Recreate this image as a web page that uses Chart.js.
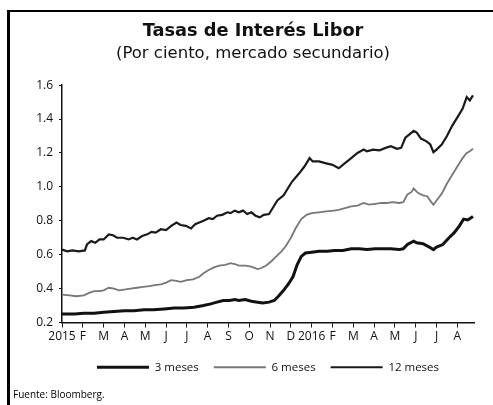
<!DOCTYPE html>
<html><head><meta charset="utf-8">
<script src="https://cdn.jsdelivr.net/npm/chart.js@4/dist/chart.umd.min.js"></script>
<style>
html,body{margin:0;padding:0;background:#fff;}
#frame{position:absolute;left:7px;top:10px;width:486px;height:395px;border-left:3px solid #000;border-top:2px solid #000;box-sizing:border-box;}
#wrap{position:absolute;left:0;top:0;width:493px;height:405px;}
#src{position:absolute;left:13px;top:387px;font:10px "Open Sans";color:#000;}
</style></head><body>
<div id="frame"></div>
<div id="wrap"><canvas id="c" width="493" height="405"></canvas></div>
<div id="src">Fuente: Bloomberg.</div>
<script>
const monthLabels = ['2015','F','M','A','M','J','J','A','S','O','N','D','2016','F','M','A','M','J','J','A'];
const seriesNames = ['3 meses','6 meses','12 meses'];

const x3 = [0,0.6,1.05,1.55,2.0,2.5,3.0,3.45,3.95,4.4,4.9,5.4,5.85,6.35,6.8,7.15,7.45,7.75,8.05,8.3,8.5,8.8,9.1,9.4,9.65,9.95,10.2,10.4,10.65,10.9,11.1,11.3,11.5,11.7,12.0,12.35,12.75,13.1,13.5,13.9,14.3,14.65,15.05,15.45,15.8,16.2,16.4,16.6,16.9,17.05,17.35,17.65,17.85,18.0,18.3,18.6,18.85,19.1,19.3,19.5,19.75];
const y3 = [0.25,0.25,0.255,0.255,0.26,0.265,0.27,0.27,0.275,0.275,0.28,0.285,0.285,0.29,0.30,0.31,0.32,0.33,0.33,0.335,0.33,0.335,0.325,0.32,0.315,0.32,0.33,0.355,0.39,0.43,0.47,0.54,0.59,0.61,0.615,0.62,0.62,0.625,0.625,0.635,0.635,0.63,0.635,0.635,0.635,0.63,0.635,0.66,0.68,0.67,0.665,0.645,0.63,0.645,0.66,0.70,0.73,0.77,0.81,0.805,0.825];

const x6 = [0,0.35,0.7,1.05,1.3,1.55,1.8,2.0,2.25,2.5,2.75,3.05,3.3,3.6,3.9,4.2,4.45,4.75,5.0,5.25,5.5,5.7,6.0,6.3,6.6,6.8,7.05,7.3,7.55,7.85,8.1,8.3,8.5,8.8,9.1,9.4,9.55,9.8,10.05,10.3,10.55,10.75,11.0,11.25,11.5,11.75,12.0,12.35,12.7,13.05,13.3,13.6,13.9,14.2,14.5,14.75,15.05,15.35,15.6,15.9,16.2,16.4,16.6,16.8,16.9,17.1,17.35,17.55,17.75,17.85,18.0,18.25,18.5,18.75,19.0,19.25,19.45,19.6,19.75];
const y6 = [0.365,0.36,0.355,0.36,0.375,0.385,0.385,0.39,0.405,0.40,0.39,0.395,0.40,0.405,0.41,0.415,0.42,0.425,0.435,0.45,0.445,0.44,0.45,0.455,0.47,0.49,0.51,0.525,0.535,0.54,0.55,0.545,0.535,0.535,0.53,0.515,0.52,0.535,0.56,0.59,0.62,0.65,0.70,0.76,0.81,0.835,0.845,0.85,0.855,0.86,0.865,0.875,0.885,0.89,0.905,0.895,0.90,0.905,0.905,0.91,0.905,0.91,0.955,0.97,0.99,0.965,0.95,0.945,0.91,0.895,0.92,0.96,1.02,1.07,1.12,1.17,1.20,1.21,1.225];

const x12 = [0,0.25,0.5,0.8,1.1,1.2,1.4,1.6,1.8,2.0,2.25,2.45,2.65,2.95,3.2,3.4,3.6,3.85,4.1,4.3,4.5,4.75,5.0,5.25,5.5,5.7,5.95,6.2,6.4,6.6,6.8,7.05,7.25,7.45,7.7,7.95,8.1,8.3,8.5,8.7,8.9,9.1,9.3,9.5,9.7,9.95,10.15,10.35,10.65,11.05,11.4,11.65,11.9,12.05,12.35,12.65,13.0,13.3,13.6,13.9,14.2,14.5,14.65,14.95,15.25,15.55,15.8,16.1,16.3,16.5,16.7,16.9,17.05,17.25,17.5,17.7,17.85,18.0,18.25,18.5,18.75,19.0,19.25,19.45,19.6,19.75];
const y12 = [0.63,0.62,0.625,0.62,0.625,0.66,0.68,0.67,0.69,0.69,0.72,0.715,0.70,0.70,0.69,0.70,0.69,0.71,0.72,0.735,0.73,0.75,0.745,0.77,0.79,0.775,0.77,0.755,0.78,0.79,0.80,0.815,0.81,0.83,0.835,0.85,0.845,0.86,0.85,0.86,0.84,0.85,0.83,0.82,0.835,0.84,0.88,0.92,0.95,1.03,1.08,1.12,1.17,1.15,1.15,1.14,1.13,1.11,1.14,1.17,1.20,1.22,1.21,1.22,1.215,1.23,1.24,1.225,1.23,1.29,1.31,1.33,1.32,1.285,1.27,1.25,1.205,1.22,1.25,1.30,1.36,1.41,1.46,1.53,1.51,1.54];

const yTicks = [0.2,0.4,0.6,0.8,1.0,1.2,1.4,1.6];

const pts = (xs, ys) => xs.map((x, i) => ({x: x, y: ys[i]}));
const FONT = '"Open Sans", "DejaVu Sans", sans-serif';
const TFONT = '"DejaVu Sans", sans-serif';

new Chart(document.getElementById('c'), {
  type: 'line',
  data: {
    datasets: [
      {label: seriesNames[0], data: pts(x3, y3), borderColor: '#111', backgroundColor: '#111', borderWidth: 3},
      {label: seriesNames[1], data: pts(x6, y6), borderColor: '#777', backgroundColor: '#777', borderWidth: 1.8},
      {label: seriesNames[2], data: pts(x12, y12), borderColor: '#1a1a1a', backgroundColor: '#1a1a1a', borderWidth: 2.2}
    ]
  },
  options: {
    responsive: false,
    animation: false,
    devicePixelRatio: 1,
    elements: {point: {radius: 0}, line: {tension: 0}},
    layout: {padding: {top: 21, left: 32, right: 19, bottom: 22}},
    plugins: {
      title: {display: true, text: 'Tasas de Interés Libor', color: '#111',
        font: {family: TFONT, size: 17.8, weight: 'bold'}, padding: {top: 0, bottom: 1}},
      subtitle: {display: true, text: '(Por ciento, mercado secundario)', color: '#111',
        font: {family: TFONT, size: 16.5}, padding: {top: 0, bottom: 22}},
      legend: {position: 'bottom', fullSize: false,
        labels: {usePointStyle: true, pointStyle: 'line', pointStyleWidth: 52, boxHeight: 11,
          color: '#111', padding: 15, font: {family: FONT, size: 11.5}}},
      tooltip: {enabled: false}
    },
    scales: {
      x: {
        type: 'linear', min: 0, max: 19.8,
        afterBuildTicks: s => { s.ticks = monthLabels.map((l, i) => ({value: i})); },
        afterFit: s => { s.height = 24; },
        ticks: {callback: (v, i) => monthLabels[i], color: '#111', padding: 2, maxRotation: 0, autoSkip: false,
          font: {family: FONT, size: 12}},
        grid: {drawOnChartArea: false, tickLength: 5, color: '#111', tickWidth: 1},
        border: {display: true, color: '#111', width: 1.5}
      },
      y: {
        min: 0.2, max: 1.6,
        afterBuildTicks: s => { s.ticks = yTicks.map(v => ({value: v})); },
        afterFit: s => { s.width = 30; },
        ticks: {callback: v => Number(v).toFixed(1), color: '#111', padding: 6,
          font: {family: FONT, size: 12}},
        grid: {drawOnChartArea: false, tickLength: 3, color: '#111'},
        border: {display: true, color: '#111', width: 1.5}
      }
    }
  }
});
</script>
</body></html>
